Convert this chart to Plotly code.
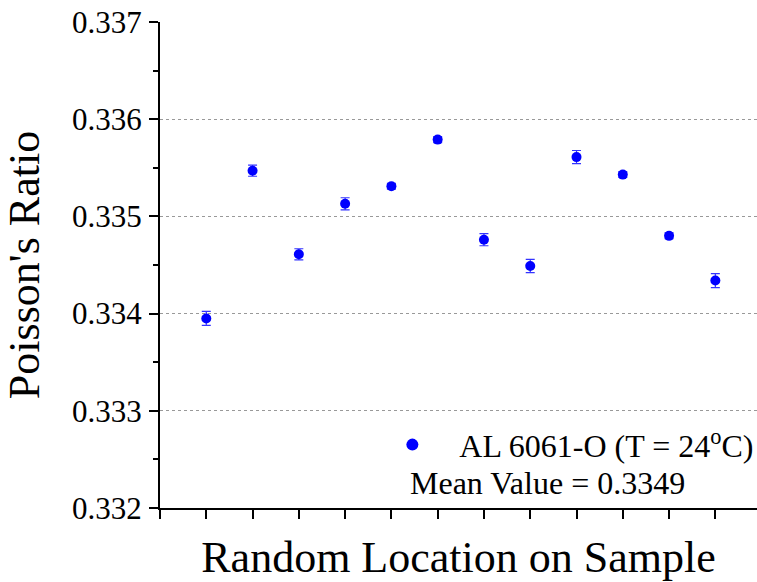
import plotly.graph_objects as go

locations = list(range(1, 13))
poisson = [0.33395, 0.33547, 0.33461, 0.33513, 0.33531, 0.33579,
           0.33476, 0.33449, 0.33561, 0.33543, 0.33480, 0.33434]
errors = [0.000072, 0.000057, 0.000057, 0.000062, 0.00003, 0.00003,
          0.000062, 0.000068, 0.000068, 0.00003, 0.00003, 0.000072]
series_name = "AL 6061-O (T = 24<sup>o</sup>C)"
mean_text = "Mean Value = 0.3349"
y_ticks = [0.332, 0.333, 0.334, 0.335, 0.336, 0.337]

FONT = "Liberation Serif"

fig = go.Figure()
fig.add_trace(go.Scatter(
    x=locations, y=poisson, mode="markers", name=series_name,
    marker=dict(color="#0000ff", size=10),
    error_y=dict(type="data", array=errors, visible=True, color="#3333ff",
                 thickness=1.2, width=4.5),
))

fig.add_annotation(x=0.415, y=0.0514, xref="paper", yref="paper",
                   xanchor="left", yanchor="middle", showarrow=False,
                   text=mean_text, font=dict(family=FONT, size=32, color="black"))

fig.update_layout(
    width=757, height=582,
    margin=dict(l=160, r=0, t=22, b=74, autoexpand=False),
    paper_bgcolor="white", plot_bgcolor="white",
    font=dict(family=FONT, color="black"),
    showlegend=True,
    legend=dict(x=0.344, y=0.13, xanchor="left", yanchor="middle",
                bgcolor="rgba(0,0,0,0)", font=dict(family=FONT, size=32, color="black"),
                itemsizing="constant", itemwidth=84),
    xaxis=dict(range=[0, 12.9], tickmode="linear", tick0=0, dtick=1,
               showticklabels=False, ticks="outside", ticklen=9, tickwidth=1.5,
               tickcolor="black", showline=True, linecolor="black", linewidth=2,
               showgrid=False, zeroline=False,
               title=dict(text="Random Location on Sample",
                          font=dict(family=FONT, size=44, color="black"), standoff=27)),
    yaxis=dict(range=[0.332, 0.337], tickmode="array", tickvals=y_ticks,
               ticktext=[f"{v:.3f}" for v in y_ticks],
               ticks="outside", ticklen=9, tickwidth=1.5, tickcolor="black",
               tickfont=dict(family=FONT, size=31, color="black"),
               ticklabelstandoff=1,
               showline=True, linecolor="black", linewidth=2,
               showgrid=True, gridcolor="#999999", griddash="dot", gridwidth=1,
               zeroline=False,
               minor=dict(dtick=0.0005, tick0=0.332, ticks="outside", ticklen=5,
                          tickwidth=1.5, tickcolor="black", showgrid=False),
               title=dict(text="Poisson's Ratio",
                          font=dict(family=FONT, size=44, color="black"), standoff=20)),
)

fig.write_html("out.html")
